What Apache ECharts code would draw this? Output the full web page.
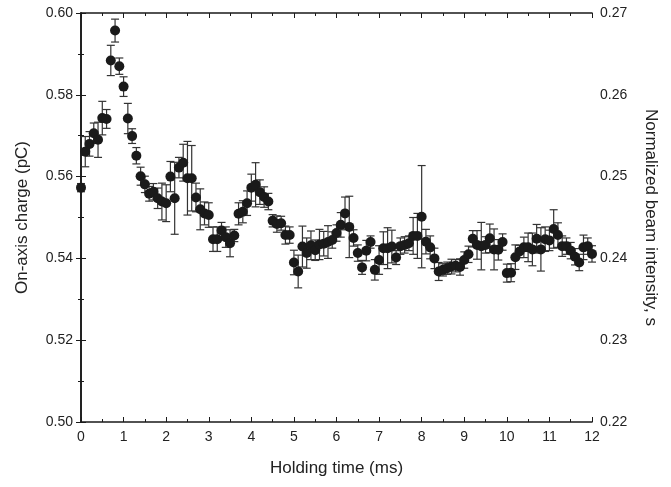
<!DOCTYPE html>
<html>
<head>
<meta charset="utf-8">
<script src="https://cdn.jsdelivr.net/npm/echarts@6/dist/echarts.min.js"></script>
<style>
html,body{margin:0;padding:0;background:#fff;}
#chart{width:671px;height:487px;}
</style>
</head>
<body>
<div id="chart"></div>
<script>
// Holding time (ms)
const times = [];
for (let i = 0; i <= 120; i++) times.push(+(i / 10).toFixed(1));

// On-axis charge (pC)
const charge = [
  0.5573, 0.5661, 0.5680, 0.5706, 0.5690, 0.5743, 0.5741, 0.5884, 0.5957, 0.5870,
  0.5820, 0.5742, 0.5699, 0.5651, 0.5601, 0.5581, 0.5558, 0.5563, 0.5547, 0.5539,
  0.5535, 0.5600, 0.5547, 0.5622, 0.5634, 0.5596, 0.5596, 0.5549, 0.5520, 0.5510,
  0.5506, 0.5447, 0.5447, 0.5468, 0.5452, 0.5437, 0.5456, 0.5509, 0.5514, 0.5535,
  0.5573, 0.5580, 0.5562, 0.5550, 0.5539, 0.5492, 0.5484, 0.5486, 0.5457, 0.5457,
  0.5390, 0.5368, 0.5429, 0.5413, 0.5432, 0.5420, 0.5434, 0.5436, 0.5440, 0.5445,
  0.5462, 0.5482, 0.5510, 0.5477, 0.5450, 0.5413, 0.5378, 0.5419, 0.5440, 0.5372,
  0.5396, 0.5425, 0.5425, 0.5429, 0.5402, 0.5430, 0.5433, 0.5437, 0.5455, 0.5455,
  0.5502, 0.5441, 0.5427, 0.5400, 0.5368, 0.5372, 0.5376, 0.5380, 0.5382, 0.5379,
  0.5396, 0.5410, 0.5448, 0.5433, 0.5430, 0.5433, 0.5449, 0.5422, 0.5421, 0.5440,
  0.5364, 0.5365, 0.5403, 0.5417, 0.5427, 0.5427, 0.5422, 0.5448, 0.5422, 0.5447,
  0.5444, 0.5472, 0.5457, 0.5430, 0.5430, 0.5419, 0.5404, 0.5390, 0.5427, 0.5430,
  0.5411
];

// Error bar half-widths (pC)
const chargeErr = [
  0.0010, 0.0037, 0.0030, 0.0025, 0.0043, 0.0041, 0.0023, 0.0037, 0.0028, 0.0020,
  0.0024, 0.0037, 0.0018, 0.0020, 0.0022, 0.0020, 0.0018, 0.0020, 0.0025, 0.0045,
  0.0045, 0.0037, 0.0088, 0.0025, 0.0045, 0.0090, 0.0080, 0.0035, 0.0050, 0.0028,
  0.0030, 0.0030, 0.0030, 0.0020, 0.0025, 0.0033, 0.0015, 0.0027, 0.0027, 0.0030,
  0.0033, 0.0054, 0.0030, 0.0025, 0.0020, 0.0015, 0.0020, 0.0017, 0.0022, 0.0020,
  0.0030, 0.0040, 0.0050, 0.0037, 0.0035, 0.0025, 0.0037, 0.0030, 0.0040, 0.0020,
  0.0020, 0.0030, 0.0040, 0.0075, 0.0020, 0.0020, 0.0017, 0.0025, 0.0015, 0.0025,
  0.0035, 0.0040, 0.0050, 0.0040, 0.0017, 0.0020, 0.0020, 0.0018, 0.0045, 0.0055,
  0.0125, 0.0030, 0.0028, 0.0025, 0.0022, 0.0015, 0.0015, 0.0018, 0.0015, 0.0020,
  0.0020, 0.0020, 0.0020, 0.0035, 0.0058, 0.0020, 0.0035, 0.0050, 0.0025, 0.0020,
  0.0022, 0.0022, 0.0030, 0.0015, 0.0025, 0.0035, 0.0040, 0.0035, 0.0053, 0.0030,
  0.0025, 0.0047, 0.0030, 0.0025, 0.0020, 0.0020, 0.0020, 0.0020, 0.0030, 0.0020,
  0.0020
];

const xTitle = 'Holding time (ms)';
const yLeftTitle = 'On-axis charge (pC)';
const yRightTitle = 'Normalized beam intensity, s';

const points = times.map((t, i) => [t, charge[i]]);
const errData = times.map((t, i) => [t, charge[i] - chargeErr[i], charge[i] + chargeErr[i]]);

const FONT = '"Liberation Sans", Arial, sans-serif';
const TXT = '#222';
const LINE = '#1a1a1a';

const chart = echarts.init(document.getElementById('chart'), null, {renderer: 'canvas'});

const xCommon = {
  type: 'value', min: 0, max: 12, interval: 1,
  splitLine: {show: false},
  axisLine: {show: true, lineStyle: {color: LINE, width: 1.6}},
  axisTick: {show: true, inside: true, length: 5, lineStyle: {color: LINE, width: 1}},
  minorTick: {show: true, splitNumber: 2, length: 3, lineStyle: {color: LINE, width: 1}},
  minorSplitLine: {show: false}
};
const yCommon = {
  type: 'value',
  splitLine: {show: false},
  axisLine: {show: true, lineStyle: {color: LINE, width: 1.6}},
  axisTick: {show: true, inside: true, length: 5, lineStyle: {color: LINE, width: 1}},
  minorTick: {show: true, splitNumber: 2, length: 3, lineStyle: {color: LINE, width: 1}},
  minorSplitLine: {show: false}
};

chart.setOption({
  animation: false,
  backgroundColor: '#fff',
  grid: {left: 81, right: 79, top: 13, bottom: 65, containLabel: false},
  xAxis: [
    Object.assign({}, xCommon, {
      position: 'bottom',
      name: xTitle, nameLocation: 'middle', nameGap: 38,
      nameTextStyle: {fontFamily: FONT, fontSize: 17, color: TXT},
      axisLabel: {show: true, margin: 8, fontFamily: FONT, fontSize: 14, color: TXT}
    }),
    Object.assign({}, xCommon, {
      position: 'top',
      axisLabel: {show: false}
    })
  ],
  yAxis: [
    Object.assign({}, yCommon, {
      position: 'left', min: 0.50, max: 0.60, interval: 0.02,
      name: yLeftTitle, nameLocation: 'middle', nameGap: 50, nameRotate: 90,
      nameTextStyle: {fontFamily: FONT, fontSize: 17, color: TXT},
      axisLabel: {show: true, margin: 8, fontFamily: FONT, fontSize: 14, color: TXT,
        formatter: v => v.toFixed(2)}
    }),
    Object.assign({}, yCommon, {
      position: 'right', min: 0.22, max: 0.27, interval: 0.01,
      name: yRightTitle, nameLocation: 'middle', nameGap: 50, nameRotate: -90,
      nameTextStyle: {fontFamily: FONT, fontSize: 17, color: TXT},
      axisLabel: {show: true, margin: 8, fontFamily: FONT, fontSize: 14, color: TXT,
        formatter: v => v.toFixed(2)}
    })
  ],
  series: [
    {
      type: 'custom',
      xAxisIndex: 0, yAxisIndex: 0,
      data: errData,
      z: 2,
      renderItem: function (params, api) {
        const x = api.value(0);
        const lo = api.coord([x, api.value(1)]);
        const hi = api.coord([x, api.value(2)]);
        const w = 4;
        const style = {stroke: '#333', lineWidth: 1.2};
        return {
          type: 'group',
          children: [
            {type: 'line', shape: {x1: lo[0], y1: lo[1], x2: hi[0], y2: hi[1]}, style: style},
            {type: 'line', shape: {x1: lo[0] - w, y1: lo[1], x2: lo[0] + w, y2: lo[1]}, style: style},
            {type: 'line', shape: {x1: hi[0] - w, y1: hi[1], x2: hi[0] + w, y2: hi[1]}, style: style}
          ]
        };
      }
    },
    {
      type: 'scatter',
      xAxisIndex: 0, yAxisIndex: 0,
      data: points,
      symbol: 'circle',
      symbolSize: 10,
      z: 3,
      itemStyle: {color: '#1a1a1a', opacity: 1}
    }
  ]
});
</script>
</body>
</html>
